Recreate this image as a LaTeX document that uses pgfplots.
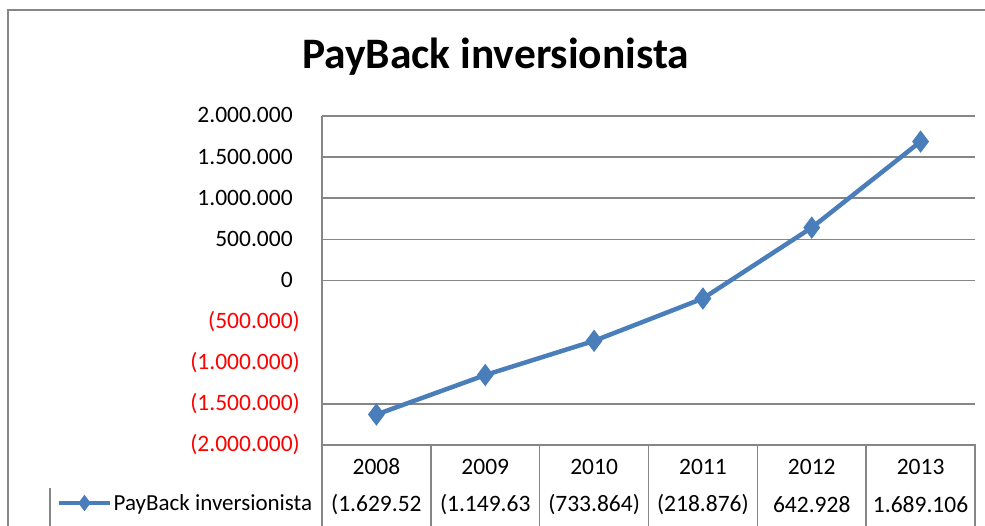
\documentclass[border=0pt]{standalone}
\usepackage{pgfplots}
\pgfplotsset{compat=1.18}
\usepackage{fontspec}
\setmainfont{Carlito}
\definecolor{serie}{HTML}{4A7EBB}
\definecolor{rejilla}{HTML}{868686}
\begin{document}
\begin{tikzpicture}[x=1pt,y=1pt]
\useasboundingbox (0,0) rectangle (985,526);
\begin{axis}[
    at={(322pt,81pt)}, anchor=south west,
    scale only axis, width=653pt, height=329pt,
    xmin=-0.5, xmax=5.5,
    ymin=-2000000, ymax=2000000,
    scaled y ticks=false,
    clip=false,
    axis line style={draw=none},
    tick style={draw=none},
    major tick length=0pt,
    xtick={0,1,2,3,4,5},
    xticklabels={2008,2009,2010,2011,2012,2013},
    xticklabel style={anchor=center, inner sep=0pt, yshift=-22pt, font=\fontsize{23.5}{27}\selectfont},
    ytick={-2000000,-1500000,-1000000,-500000,0,500000,1000000,1500000,2000000},
    yticklabels={\textcolor{red}{(2.000.000)},\textcolor{red}{(1.500.000)},\textcolor{red}{(1.000.000)},\textcolor{red}{(500.000)},0\phantom{)},500.000\phantom{)},1.000.000\phantom{)},1.500.000\phantom{)},2.000.000\phantom{)}},
    yticklabel style={anchor=east, inner sep=0pt, xshift=-22pt, font=\fontsize{23.5}{27}\selectfont},
    extra y ticks={-1500000,0,500000,1000000,1500000,2000000},
    extra y tick labels={},
    extra y tick style={grid=major, tick style={draw=none}},
    major grid style={rejilla, line width=1.5pt},
    title={PayBack inversionista},
    title style={font=\fontsize{43.5}{50}\selectfont\bfseries, at={(axis description cs:0.266,1.125)}, anchor=base},
    legend style={draw=none, fill=none, at={(axis description cs:-0.4058,-0.1763)}, anchor=west,
        inner sep=0pt, nodes={inner sep=1pt}, font=\fontsize{23}{27}\selectfont},
    legend cell align=left,
    legend image code/.code={
        \draw[#1] (0pt,0pt) -- (51pt,0pt);
        \draw[#1, mark size=4.5pt] plot coordinates {(25pt,0pt)};
    },
]
\addplot[serie, line width=4.5pt, mark=diamond*, mark size=7.5pt, mark options={solid, scale=1}] coordinates {
    (0,-1629520)
    (1,-1149630)
    (2,-733864)
    (3,-218876)
    (4,642928)
    (5,1689106)
};
\addlegendentry{PayBack inversionista}

% lineas del eje y de la tabla de datos
\draw[rejilla, line width=1.5pt] (rel axis cs:0,1) -- (rel axis cs:0,0) -- ++(0pt,-81pt);
\draw[rejilla, line width=1.5pt] (rel axis cs:0,0) -- (rel axis cs:1,0) -- ++(0pt,-81pt);
\pgfplotsinvokeforeach{0.5,1.5,2.5,3.5,4.5}{
    \draw[rejilla, line width=1.5pt] (axis cs:#1,-2000000) -- ++(0pt,-81pt);
}
\draw[rejilla, line width=1.5pt] (axis cs:-0.5,-2000000) ++(-272pt,-43pt) -- ++(0pt,-38pt);
% fila de valores
\begin{scope}[every node/.style={font=\fontsize{23.5}{27}\selectfont, inner sep=0pt, yshift=-60pt}]
\node at (axis cs:0,-2000000) {{(1.629.52}};
\node at (axis cs:1,-2000000) {{(1.149.63}};
\node at (axis cs:2,-2000000) {{(733.864)}};
\node at (axis cs:3,-2000000) {{(218.876)}};
\node at (axis cs:4,-2000000) {642.928};
\node at (axis cs:5,-2000000) {1.689.106};
\end{scope}
\end{axis}
% marco del grafico
\fill[white] (977,411) rectangle (985,514);
\draw[rejilla, line width=2pt] (8,0) -- (8,516);
\draw[rejilla, line width=2pt] (7,516) -- (985,516);
\end{tikzpicture}
\end{document}
